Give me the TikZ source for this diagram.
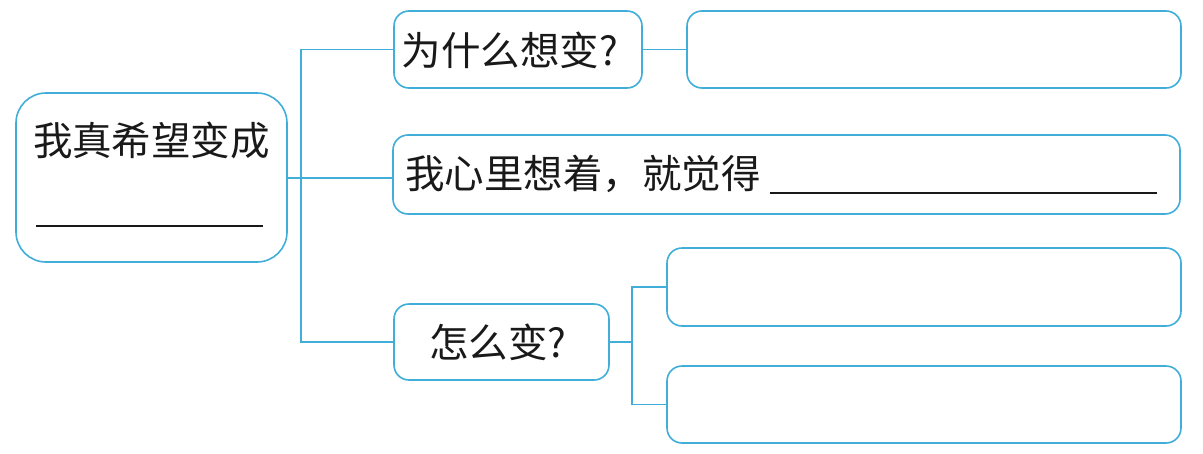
\documentclass[tikz,border=0pt]{standalone}
\usepackage{fontspec}
\setmainfont{Noto Sans CJK SC}
\definecolor{lineblue}{RGB}{64,174,216}
\begin{document}
\begin{tikzpicture}[x=1pt,y=-1pt,
  box/.style={draw=lineblue,line width=1.6pt,rounded corners=15pt,inner sep=0pt},
  conn/.style={draw=lineblue,line width=1.6pt},
  txt/.style={inner sep=0pt,font=\fontsize{39.5}{42}\selectfont,text=black!90}]
\useasboundingbox (0,0) rectangle (1203,453);
% boxes
\node[box,rounded corners=30pt,minimum width=271pt,minimum height=169pt] (main) at (151.5,177.5) {};
\node[box,minimum width=248pt,minimum height=77pt] (why) at (518,49.5) {};
\node[box,minimum width=494pt,minimum height=77pt] (whyans) at (934,49.5) {};
\node[box,minimum width=787pt,minimum height=79pt] (feel) at (786.5,174.5) {};
\node[box,minimum width=215pt,minimum height=76pt] (how) at (501.5,342) {};
\node[box,minimum width=514pt,minimum height=78pt] (howa) at (924,287) {};
\node[box,minimum width=514pt,minimum height=77pt] (howb) at (924,404.5) {};
% texts
\node[txt] (maintext) at (151.5,140) {我真希望变成};
\draw[line width=1.2pt,black!90] (36,226) -- (263,226);
\node[txt] (whytext) at (510,50) {为什么想变?};
\node[txt,anchor=west] (feeltext) at (405,174) {我心里想着，就觉得};
\draw[line width=1.2pt,black!90] (770,193) -- (1157,193);
\node[txt] (howtext) at (498,342) {怎么变?};
% connectors
\coordinate (trunk) at (301,178);
\draw[conn] (main.east |- trunk) -- (trunk);
\draw[conn] (why.west) -| (trunk) |- (how.west);
\draw[conn] (trunk) -- (trunk -| feel.west);
\draw[conn] (why.east) -- (whyans.west);
\coordinate (fork) at (632,342);
\draw[conn] (how.east) -- (fork);
\draw[conn] (howa.west) -| (fork) |- (howb.west);
\end{tikzpicture}
\end{document}
